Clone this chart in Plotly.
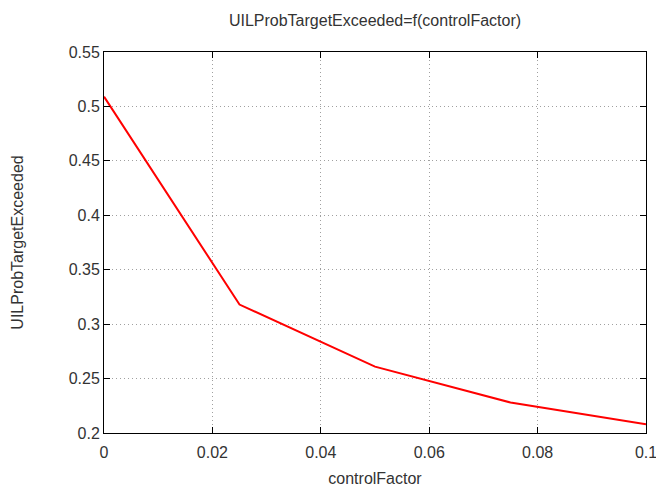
import plotly.graph_objects as go

control_factor = [0.0, 0.025, 0.05, 0.075, 0.1]
prob_exceeded = [0.509, 0.318, 0.261, 0.228, 0.208]

x_ticks = [0, 0.02, 0.04, 0.06, 0.08, 0.1]
x_tick_text = ["0", "0.02", "0.04", "0.06", "0.08", "0.1"]
y_ticks = [0.2, 0.25, 0.3, 0.35, 0.4, 0.45, 0.5, 0.55]
y_tick_text = ["0.2", "0.25", "0.3", "0.35", "0.4", "0.45", "0.5", "0.55"]

font = dict(family="Liberation Sans, Arial, sans-serif", size=16, color="#333333")

fig = go.Figure()
fig.add_trace(go.Scatter(
    x=control_factor, y=prob_exceeded, mode="lines",
    line=dict(color="#ff0000", width=2), showlegend=False,
))

axis_common = dict(
    showline=True, linecolor="black", linewidth=1, mirror="ticks",
    ticks="inside", ticklen=6, tickcolor="black",
    showgrid=True, gridcolor="#a0a0a0", griddash="1px,3px", gridwidth=1,
    zeroline=False, tickfont=font, automargin=False, ticklabeloverflow="allow",
)

fig.update_layout(
    width=656, height=487,
    margin=dict(l=104, r=10, t=52, b=54),
    paper_bgcolor="white", plot_bgcolor="white",
    font=font,
    title=dict(text="UILProbTargetExceeded=f(controlFactor)", xref="paper", x=0.5,
               xanchor="center", y=0.959, yanchor="middle", font=font),
    xaxis=dict(range=[0, 0.1], tickvals=x_ticks, ticktext=x_tick_text, ticklabelstandoff=5,
               title=dict(text="controlFactor", font=font, standoff=17), **axis_common),
    yaxis=dict(range=[0.2, 0.55], tickvals=y_ticks, ticktext=y_tick_text,
               title=dict(text="UILProbTargetExceeded", font=font, standoff=41), **axis_common),
)

fig.write_html("out.html")
